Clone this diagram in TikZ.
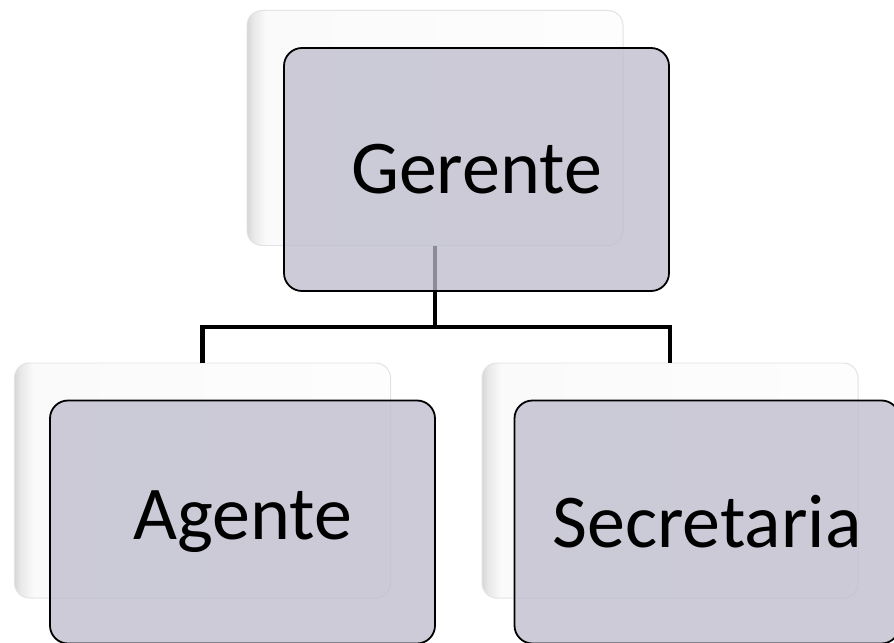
\documentclass[tikz,border=0pt]{standalone}
\usepackage{fontspec}
\setmainfont{Carlito}
\usetikzlibrary{calc}
\definecolor{FrontClr}{RGB}{188,186,203}
\definecolor{BackEdgeClr}{RGB}{226,226,232}
\pgfdeclarehorizontalshading{backshade}{100bp}{color(0bp)=(black!16); color(25bp)=(black!16); color(25.8bp)=(black!9); color(27.5bp)=(black!2); color(100bp)=(white)}

\begin{document}
\begin{tikzpicture}[x=1bp,y=-1bp,
  backbox/.style={rectangle,rounded corners=15bp,minimum width=376bp,minimum height=235bp,
    shading=backshade,draw=BackEdgeClr,line width=1pt},
  frontbox/.style={rectangle,rounded corners=18bp,minimum width=385bp,minimum height=243bp,
    fill=FrontClr,fill opacity=.75,text opacity=1,draw=black,line width=1.8pt,
    font=\fontsize{76bp}{80bp}\selectfont},
  link/.style={line width=4.5pt,black}]
\useasboundingbox (0,0) rectangle (894,643);
\clip (0,0) rectangle (894,643);

% back boxes
\node[backbox] (gback) at (435,128) {};
\node[backbox] (aback) at (202.5,480.5) {};
\node[backbox] (sback) at (670,480.5) {};

% connectors
\draw[link] (gback.south) -- ++(0,81) coordinate (bus) -| (aback.north);
\draw[link] (bus) -| (sback.north);

% front boxes
\node[frontbox] (gerente) at ($(gback)+(41.5,41.5)$) {Gerente};
\node[frontbox] (agente) at ($(aback)+(40,41.5)$) {Agente};
\node[frontbox] (secretaria) at ($(sback)+(37,41.5)$) {Secretaria};

\end{tikzpicture}
\end{document}
